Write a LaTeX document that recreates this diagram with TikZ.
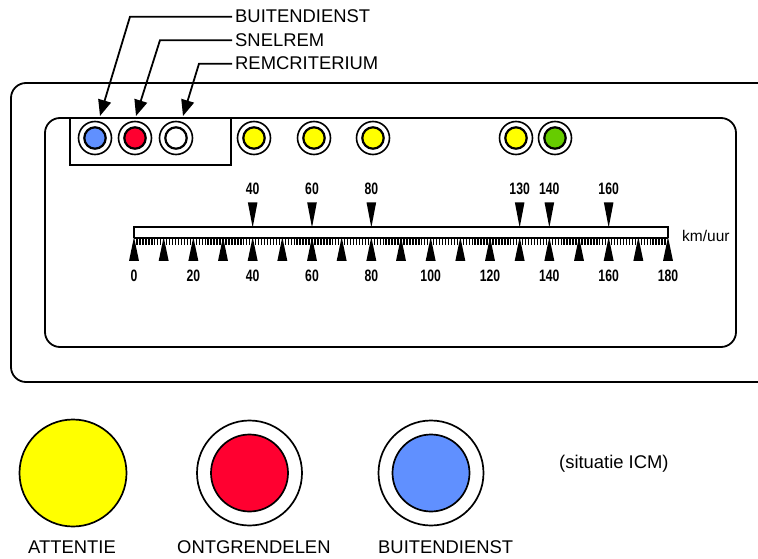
\documentclass[tikz,border=0pt]{standalone}
\usepackage{fontspec}
\setmainfont{Liberation Sans}
\newfontfamily\scalenum[FakeStretch=0.74]{Liberation Sans Bold}
\usetikzlibrary{arrows.meta}

\definecolor{lampyellow}{RGB}{255,255,0}
\definecolor{lampred}{RGB}{255,0,48}
\definecolor{lampblue}{RGB}{96,144,255}
\definecolor{lampgreen}{RGB}{102,204,0}

\begin{document}
\begin{tikzpicture}[x=1bp,y=-1bp,
  frame/.style={line width=1.8bp},
  ring/.style={circle, draw, line width=1.6bp, minimum size=33bp, inner sep=0pt, fill=white},
  core/.style={draw=black, line width=2.2bp},
  leader/.style={line width=1.8bp, -{Triangle[length=16bp,width=13bp]}},
  lbl/.style={font=\fontsize{18.4bp}{20bp}\selectfont, inner sep=0pt, anchor=base west},
  num/.style={font=\scalenum\fontsize{16.5bp}{18bp}\selectfont, inner sep=0pt},
  bigring/.style={circle, draw, line width=1.7bp, minimum size=105bp, inner sep=0pt, fill=white}]
\useasboundingbox (0,0) rectangle (758,559);

% housing and display panel
\draw[frame, rounded corners=15bp] (762,83) -- (11,83) -- (11,382) -- (762,382);
\draw[frame, rounded corners=15bp] (45,118) rectangle (736,347);

% box round the first three lamps
\draw[frame] (70,118) -- (70,165) -- (231,165) -- (231,118);

% signal lamps
\foreach \n/\x/\c in {b1/95/lampblue, b2/135/lampred, b3/176/white,
                      y1/254/lampyellow, y2/314/lampyellow, y3/373/lampyellow,
                      y4/516/lampyellow, g1/555/lampgreen} {
  \node[ring] (\n) at (\x,138) {};
  \draw[core, fill=\c] (\n.center) circle[radius=10.7];
}

% labels with leader arrows
\node[lbl] (tBuit) at (235,23) {BUITENDIENST};
\node[lbl] (tSnel) at (235,46.5) {SNELREM};
\node[lbl] (tRem)  at (235,70) {REMCRITERIUM};
\coordinate (tipB) at (100,116);
\coordinate (tipS) at (136,116);
\coordinate (tipR) at (183,116);
\draw[leader] ([xshift=-3bp]tBuit.west) -- ++(-102,0) -- (tipB);
\draw[leader] ([xshift=-3bp]tSnel.west) -- ++(-72,0) -- (tipS);
\draw[leader] ([xshift=-3bp]tRem.west) -- ++(-33,0) -- (tipR);

% speed scale
\draw[frame] (134,238) -- (134,227) -- (668,227) -- (668,238);
\draw[line width=2.2bp] (134,238) -- (668,238);
\foreach \v in {1,...,179}
  \draw[line width=1.4bp] ({134+2.9667*\v},238) -- ++(0,7.5);
\foreach \v in {0,10,...,180}
  \fill ({134+2.9667*\v},237) -- ++(5,24) -- ++(-10,0) -- cycle;
\foreach \v in {0,20,...,180}
  \node[num] (lo\v) at ({134+2.9667*\v},276) {\v};
\foreach \v in {40,60,80,130,140,160} {
  \fill ({134+2.9667*\v},227.5) -- ++(4.8,-25) -- ++(-9.6,0) -- cycle;
  \node[num] (hi\v) at ({134+2.9667*\v},189) {\v};
}
\node[font=\fontsize{15.5bp}{17bp}\selectfont, inner sep=0pt, anchor=west] (unit) at (682,236) {km/uur};

% legend
\node[circle, draw, line width=1.7bp, fill=lampyellow, minimum size=107bp, inner sep=0pt] (att) at (73,473) {};
\node[bigring] (ont) at (249.5,473) {};
\draw[line width=1.7bp, fill=lampred] (ont.center) circle[radius=38.5];
\node[bigring] (bui) at (431,473) {};
\draw[line width=1.7bp, fill=lampblue] (bui.center) circle[radius=38.5];

\node[lbl] (lAtt) at (28,553.3) {ATTENTIE};
\node[lbl] (lOnt) at (177,553.3) {ONTGRENDELEN};
\node[lbl] (lBui) at (378,553.3) {BUITENDIENST};
\node[lbl] (sit) at (559,468) {(situatie ICM)};
\end{tikzpicture}
\end{document}
